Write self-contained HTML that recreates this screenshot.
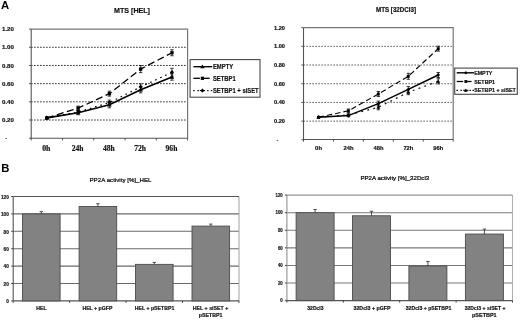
<!DOCTYPE html>
<html lang="en"><head><meta charset="utf-8"><title>Figure</title>
<style>
html,body{margin:0;padding:0;background:#fff;}
body{width:520px;height:320px;overflow:hidden;}
svg{display:block;}
.ss{font-family:"Liberation Sans",sans-serif;}
.sf{font-family:"Liberation Serif",serif;}
</style></head><body>
<svg width="520" height="320" viewBox="0 0 520 320">
<rect width="520" height="320" fill="#fff"/>
<text x="0.90" y="8.80" font-size="11.3" font-weight="bold" text-anchor="start" class="ss" fill="#000">A</text>
<text x="1.20" y="172.30" font-size="11.3" font-weight="bold" text-anchor="start" class="ss" fill="#000">B</text>
<line x1="31.2" y1="120.02" x2="187.6" y2="120.02" stroke="#111" stroke-width="1.0" stroke-dasharray="1.4 1.6"/>
<line x1="31.2" y1="101.83" x2="187.6" y2="101.83" stroke="#111" stroke-width="1.0" stroke-dasharray="1.4 1.6"/>
<line x1="31.2" y1="83.65" x2="187.6" y2="83.65" stroke="#111" stroke-width="1.0" stroke-dasharray="1.4 1.6"/>
<line x1="31.2" y1="65.47" x2="187.6" y2="65.47" stroke="#111" stroke-width="1.0" stroke-dasharray="1.4 1.6"/>
<line x1="31.2" y1="47.28" x2="187.6" y2="47.28" stroke="#111" stroke-width="1.0" stroke-dasharray="1.4 1.6"/>
<path d="M31.2 29.1 H187.6 V138.2" fill="none" stroke="#777" stroke-width="1.2"/>
<path d="M31.2 29.1 V138.2 H187.6" fill="none" stroke="#555" stroke-width="1.1"/>
<line x1="29.0" y1="138.20" x2="31.2" y2="138.20" stroke="#444" stroke-width="0.9"/>
<line x1="29.0" y1="120.02" x2="31.2" y2="120.02" stroke="#444" stroke-width="0.9"/>
<line x1="29.0" y1="101.83" x2="31.2" y2="101.83" stroke="#444" stroke-width="0.9"/>
<line x1="29.0" y1="83.65" x2="31.2" y2="83.65" stroke="#444" stroke-width="0.9"/>
<line x1="29.0" y1="65.47" x2="31.2" y2="65.47" stroke="#444" stroke-width="0.9"/>
<line x1="29.0" y1="47.28" x2="31.2" y2="47.28" stroke="#444" stroke-width="0.9"/>
<line x1="29.0" y1="29.10" x2="31.2" y2="29.10" stroke="#444" stroke-width="0.9"/>
<line x1="31.20" y1="138.2" x2="31.20" y2="140.39999999999998" stroke="#444" stroke-width="0.9"/>
<line x1="62.48" y1="138.2" x2="62.48" y2="140.39999999999998" stroke="#444" stroke-width="0.9"/>
<line x1="93.76" y1="138.2" x2="93.76" y2="140.39999999999998" stroke="#444" stroke-width="0.9"/>
<line x1="125.04" y1="138.2" x2="125.04" y2="140.39999999999998" stroke="#444" stroke-width="0.9"/>
<line x1="156.32" y1="138.2" x2="156.32" y2="140.39999999999998" stroke="#444" stroke-width="0.9"/>
<line x1="187.60" y1="138.2" x2="187.60" y2="140.39999999999998" stroke="#444" stroke-width="0.9"/>
<text x="7.30" y="140.35" font-size="6.0" font-weight="bold" text-anchor="end" class="ss" fill="#111">-</text>
<text x="13.90" y="122.17" font-size="6.0" font-weight="bold" text-anchor="end" class="ss" fill="#111" textLength="11.9" lengthAdjust="spacingAndGlyphs" stroke="#111" stroke-width="0.18">0.20</text>
<text x="13.90" y="103.98" font-size="6.0" font-weight="bold" text-anchor="end" class="ss" fill="#111" textLength="11.9" lengthAdjust="spacingAndGlyphs" stroke="#111" stroke-width="0.18">0.40</text>
<text x="13.90" y="85.80" font-size="6.0" font-weight="bold" text-anchor="end" class="ss" fill="#111" textLength="11.9" lengthAdjust="spacingAndGlyphs" stroke="#111" stroke-width="0.18">0.60</text>
<text x="13.90" y="67.62" font-size="6.0" font-weight="bold" text-anchor="end" class="ss" fill="#111" textLength="11.9" lengthAdjust="spacingAndGlyphs" stroke="#111" stroke-width="0.18">0.80</text>
<text x="13.90" y="49.43" font-size="6.0" font-weight="bold" text-anchor="end" class="ss" fill="#111" textLength="11.9" lengthAdjust="spacingAndGlyphs" stroke="#111" stroke-width="0.18">1.00</text>
<text x="13.90" y="31.25" font-size="6.0" font-weight="bold" text-anchor="end" class="ss" fill="#111" textLength="11.9" lengthAdjust="spacingAndGlyphs" stroke="#111" stroke-width="0.18">1.20</text>
<text x="46.34" y="150.50" font-size="8.2" font-weight="bold" text-anchor="middle" class="sf" fill="#111" textLength="8.3" lengthAdjust="spacingAndGlyphs" stroke="#111" stroke-width="0.18">0h</text>
<text x="77.62" y="150.50" font-size="8.2" font-weight="bold" text-anchor="middle" class="sf" fill="#111" textLength="11.8" lengthAdjust="spacingAndGlyphs" stroke="#111" stroke-width="0.18">24h</text>
<text x="108.90" y="150.50" font-size="8.2" font-weight="bold" text-anchor="middle" class="sf" fill="#111" textLength="11.8" lengthAdjust="spacingAndGlyphs" stroke="#111" stroke-width="0.18">48h</text>
<text x="140.18" y="150.50" font-size="8.2" font-weight="bold" text-anchor="middle" class="sf" fill="#111" textLength="11.8" lengthAdjust="spacingAndGlyphs" stroke="#111" stroke-width="0.18">72h</text>
<text x="171.46" y="150.50" font-size="8.2" font-weight="bold" text-anchor="middle" class="sf" fill="#111" textLength="11.8" lengthAdjust="spacingAndGlyphs" stroke="#111" stroke-width="0.18">96h</text>
<path d="M46.84 117.90 L78.12 112.70 L109.40 104.80 L140.68 89.70 L171.96 77.00" fill="none" stroke="#000" stroke-width="1.6"/>
<path d="M46.84 115.62 l2.28 3.96 h-4.56z" fill="#000"/>
<path d="M78.12 110.70 V114.70 M76.42 110.70 h3.4 M76.42 114.70 h3.4" fill="none" stroke="#000" stroke-width="0.75"/>
<path d="M78.12 110.42 l2.28 3.96 h-4.56z" fill="#000"/>
<path d="M109.40 101.80 V107.80 M107.70 101.80 h3.4 M107.70 107.80 h3.4" fill="none" stroke="#000" stroke-width="0.75"/>
<path d="M109.40 102.52 l2.28 3.96 h-4.56z" fill="#000"/>
<path d="M140.68 86.50 V92.90 M138.98 86.50 h3.4 M138.98 92.90 h3.4" fill="none" stroke="#000" stroke-width="0.75"/>
<path d="M140.68 87.42 l2.28 3.96 h-4.56z" fill="#000"/>
<path d="M171.96 73.80 V80.20 M170.26 73.80 h3.4 M170.26 80.20 h3.4" fill="none" stroke="#000" stroke-width="0.75"/>
<path d="M171.96 74.72 l2.28 3.96 h-4.56z" fill="#000"/>
<path d="M46.84 117.90 L78.12 108.10 L109.40 93.65 L140.68 69.10 L171.96 52.75" fill="none" stroke="#000" stroke-width="1.3" stroke-dasharray="7 3.5"/>
<rect x="45.16" y="116.22" width="3.36" height="3.36" fill="#000"/>
<path d="M78.12 106.10 V110.10 M76.42 106.10 h3.4 M76.42 110.10 h3.4" fill="none" stroke="#000" stroke-width="0.75"/>
<rect x="76.44" y="106.42" width="3.36" height="3.36" fill="#000"/>
<path d="M109.40 91.15 V96.15 M107.70 91.15 h3.4 M107.70 96.15 h3.4" fill="none" stroke="#000" stroke-width="0.75"/>
<rect x="107.72" y="91.97" width="3.36" height="3.36" fill="#000"/>
<path d="M140.68 65.60 V72.60 M138.98 65.60 h3.4 M138.98 72.60 h3.4" fill="none" stroke="#000" stroke-width="0.75"/>
<rect x="139.00" y="67.42" width="3.36" height="3.36" fill="#000"/>
<path d="M171.96 49.75 V55.75 M170.26 49.75 h3.4 M170.26 55.75 h3.4" fill="none" stroke="#000" stroke-width="0.75"/>
<rect x="170.28" y="51.07" width="3.36" height="3.36" fill="#000"/>
<path d="M46.84 117.90 L78.12 112.00 L109.40 102.60 L140.68 86.90 L171.96 72.30" fill="none" stroke="#000" stroke-width="1.25" stroke-dasharray="1.6 3.9"/>
<path d="M46.84 115.62 l2.04 2.28 l-2.04 2.28 l-2.04 -2.28z" fill="#000"/>
<path d="M78.12 110.50 V113.50 M76.42 110.50 h3.4 M76.42 113.50 h3.4" fill="none" stroke="#000" stroke-width="0.75"/>
<path d="M78.12 109.72 l2.04 2.28 l-2.04 2.28 l-2.04 -2.28z" fill="#000"/>
<path d="M109.40 100.10 V105.10 M107.70 100.10 h3.4 M107.70 105.10 h3.4" fill="none" stroke="#000" stroke-width="0.75"/>
<path d="M109.40 100.32 l2.04 2.28 l-2.04 2.28 l-2.04 -2.28z" fill="#000"/>
<path d="M140.68 83.90 V89.90 M138.98 83.90 h3.4 M138.98 89.90 h3.4" fill="none" stroke="#000" stroke-width="0.75"/>
<path d="M140.68 84.62 l2.04 2.28 l-2.04 2.28 l-2.04 -2.28z" fill="#000"/>
<path d="M171.96 68.30 V76.30 M170.26 68.30 h3.4 M170.26 76.30 h3.4" fill="none" stroke="#000" stroke-width="0.75"/>
<path d="M171.96 70.02 l2.04 2.28 l-2.04 2.28 l-2.04 -2.28z" fill="#000"/>
<text x="132.00" y="12.70" font-size="7.0" font-weight="bold" text-anchor="middle" class="ss" fill="#111" textLength="36" lengthAdjust="spacingAndGlyphs" stroke="#111" stroke-width="0.18">MTS [HEL]</text>
<rect x="190.1" y="59.6" width="69.90" height="37.60" fill="#fff" stroke="#484848" stroke-width="1.1"/>
<line x1="193.4" y1="66.7" x2="212.2" y2="66.7" stroke="#000" stroke-width="1.4"/>
<path d="M202.40 64.52 l2.18 3.79 h-4.37z" fill="#000"/>
<text x="212.90" y="68.80" font-size="7.0" font-weight="bold" text-anchor="start" class="ss" fill="#111" textLength="20.3" lengthAdjust="spacingAndGlyphs" stroke="#111" stroke-width="0.18">EMPTY</text>
<line x1="193.4" y1="78.3" x2="199.9" y2="78.3" stroke="#000" stroke-width="1.3"/>
<line x1="202.4" y1="78.3" x2="209.7" y2="78.3" stroke="#000" stroke-width="1.3"/>
<rect x="200.79" y="76.69" width="3.22" height="3.22" fill="#000"/>
<text x="212.90" y="80.50" font-size="7.0" font-weight="bold" text-anchor="start" class="ss" fill="#111" textLength="22.8" lengthAdjust="spacingAndGlyphs" stroke="#111" stroke-width="0.18">SETBP1</text>
<line x1="193.20000000000002" y1="90.6" x2="194.6" y2="90.6" stroke="#000" stroke-width="1.2"/>
<line x1="197.4" y1="90.6" x2="198.79999999999998" y2="90.6" stroke="#000" stroke-width="1.2"/>
<line x1="207.20000000000002" y1="90.6" x2="208.6" y2="90.6" stroke="#000" stroke-width="1.2"/>
<line x1="210.8" y1="90.6" x2="212.2" y2="90.6" stroke="#000" stroke-width="1.2"/>
<line x1="199.8" y1="90.6" x2="205.0" y2="90.6" stroke="#000" stroke-width="1.1"/>
<path d="M202.40 88.41 l1.95 2.18 l-1.95 2.18 l-1.95 -2.18z" fill="#000"/>
<text x="212.90" y="93.20" font-size="7.0" font-weight="bold" text-anchor="start" class="ss" fill="#111" textLength="45.8" lengthAdjust="spacingAndGlyphs" stroke="#111" stroke-width="0.18">SETBP1 + siSET</text>
<line x1="303.5" y1="121.11" x2="453.2" y2="121.11" stroke="#111" stroke-width="0.9" stroke-dasharray="1.2 1.8"/>
<line x1="303.5" y1="102.42" x2="453.2" y2="102.42" stroke="#111" stroke-width="0.9" stroke-dasharray="1.2 1.8"/>
<line x1="303.5" y1="83.72" x2="453.2" y2="83.72" stroke="#111" stroke-width="0.9" stroke-dasharray="1.2 1.8"/>
<line x1="303.5" y1="65.03" x2="453.2" y2="65.03" stroke="#111" stroke-width="0.9" stroke-dasharray="1.2 1.8"/>
<line x1="303.5" y1="46.34" x2="453.2" y2="46.34" stroke="#111" stroke-width="0.9" stroke-dasharray="1.2 1.8"/>
<path d="M303.5 27.65 H453.2 V139.45" fill="none" stroke="#777" stroke-width="1.2"/>
<path d="M303.5 27.65 V139.45 H453.2" fill="none" stroke="#555" stroke-width="1.1"/>
<line x1="301.3" y1="139.80" x2="303.5" y2="139.80" stroke="#444" stroke-width="0.9"/>
<line x1="301.3" y1="121.11" x2="303.5" y2="121.11" stroke="#444" stroke-width="0.9"/>
<line x1="301.3" y1="102.42" x2="303.5" y2="102.42" stroke="#444" stroke-width="0.9"/>
<line x1="301.3" y1="83.72" x2="303.5" y2="83.72" stroke="#444" stroke-width="0.9"/>
<line x1="301.3" y1="65.03" x2="303.5" y2="65.03" stroke="#444" stroke-width="0.9"/>
<line x1="301.3" y1="46.34" x2="303.5" y2="46.34" stroke="#444" stroke-width="0.9"/>
<line x1="301.3" y1="27.65" x2="303.5" y2="27.65" stroke="#444" stroke-width="0.9"/>
<line x1="303.50" y1="139.45" x2="303.50" y2="141.64999999999998" stroke="#444" stroke-width="0.9"/>
<line x1="333.44" y1="139.45" x2="333.44" y2="141.64999999999998" stroke="#444" stroke-width="0.9"/>
<line x1="363.38" y1="139.45" x2="363.38" y2="141.64999999999998" stroke="#444" stroke-width="0.9"/>
<line x1="393.32" y1="139.45" x2="393.32" y2="141.64999999999998" stroke="#444" stroke-width="0.9"/>
<line x1="423.26" y1="139.45" x2="423.26" y2="141.64999999999998" stroke="#444" stroke-width="0.9"/>
<line x1="453.20" y1="139.45" x2="453.20" y2="141.64999999999998" stroke="#444" stroke-width="0.9"/>
<text x="278.40" y="141.80" font-size="5.7" font-weight="bold" text-anchor="end" class="ss" fill="#111">-</text>
<text x="285.00" y="123.11" font-size="5.7" font-weight="bold" text-anchor="end" class="ss" fill="#111" textLength="11.0" lengthAdjust="spacingAndGlyphs" stroke="#111" stroke-width="0.18">0.20</text>
<text x="285.00" y="104.42" font-size="5.7" font-weight="bold" text-anchor="end" class="ss" fill="#111" textLength="11.0" lengthAdjust="spacingAndGlyphs" stroke="#111" stroke-width="0.18">0.40</text>
<text x="285.00" y="85.72" font-size="5.7" font-weight="bold" text-anchor="end" class="ss" fill="#111" textLength="11.0" lengthAdjust="spacingAndGlyphs" stroke="#111" stroke-width="0.18">0.60</text>
<text x="285.00" y="67.03" font-size="5.7" font-weight="bold" text-anchor="end" class="ss" fill="#111" textLength="11.0" lengthAdjust="spacingAndGlyphs" stroke="#111" stroke-width="0.18">0.80</text>
<text x="285.00" y="48.34" font-size="5.7" font-weight="bold" text-anchor="end" class="ss" fill="#111" textLength="11.0" lengthAdjust="spacingAndGlyphs" stroke="#111" stroke-width="0.18">1.00</text>
<text x="285.00" y="29.65" font-size="5.7" font-weight="bold" text-anchor="end" class="ss" fill="#111" textLength="11.0" lengthAdjust="spacingAndGlyphs" stroke="#111" stroke-width="0.18">1.20</text>
<text x="318.57" y="149.90" font-size="6.1" font-weight="bold" text-anchor="middle" class="ss" fill="#111" textLength="6.9" lengthAdjust="spacingAndGlyphs" stroke="#111" stroke-width="0.18">0h</text>
<text x="348.51" y="149.90" font-size="6.1" font-weight="bold" text-anchor="middle" class="ss" fill="#111" textLength="10.0" lengthAdjust="spacingAndGlyphs" stroke="#111" stroke-width="0.18">24h</text>
<text x="378.45" y="149.90" font-size="6.1" font-weight="bold" text-anchor="middle" class="ss" fill="#111" textLength="10.0" lengthAdjust="spacingAndGlyphs" stroke="#111" stroke-width="0.18">48h</text>
<text x="408.39" y="149.90" font-size="6.1" font-weight="bold" text-anchor="middle" class="ss" fill="#111" textLength="10.0" lengthAdjust="spacingAndGlyphs" stroke="#111" stroke-width="0.18">72h</text>
<text x="438.33" y="149.90" font-size="6.1" font-weight="bold" text-anchor="middle" class="ss" fill="#111" textLength="10.0" lengthAdjust="spacingAndGlyphs" stroke="#111" stroke-width="0.18">96h</text>
<path d="M318.47 117.30 L348.41 115.60 L378.35 103.60 L408.29 89.40 L438.23 75.00" fill="none" stroke="#000" stroke-width="1.55"/>
<path d="M318.47 115.30 l1.78 1.99 l-1.78 1.99 l-1.78 -1.99z" fill="#000"/>
<path d="M348.41 114.40 V116.80 M346.71 114.40 h3.4 M346.71 116.80 h3.4" fill="none" stroke="#000" stroke-width="0.75"/>
<path d="M348.41 113.60 l1.78 1.99 l-1.78 1.99 l-1.78 -1.99z" fill="#000"/>
<path d="M378.35 101.10 V106.10 M376.65 101.10 h3.4 M376.65 106.10 h3.4" fill="none" stroke="#000" stroke-width="0.75"/>
<path d="M378.35 101.60 l1.78 1.99 l-1.78 1.99 l-1.78 -1.99z" fill="#000"/>
<path d="M408.29 86.60 V92.20 M406.59 86.60 h3.4 M406.59 92.20 h3.4" fill="none" stroke="#000" stroke-width="0.75"/>
<path d="M408.29 87.41 l1.78 1.99 l-1.78 1.99 l-1.78 -1.99z" fill="#000"/>
<path d="M438.23 72.50 V77.50 M436.53 72.50 h3.4 M436.53 77.50 h3.4" fill="none" stroke="#000" stroke-width="0.75"/>
<path d="M438.23 73.00 l1.78 1.99 l-1.78 1.99 l-1.78 -1.99z" fill="#000"/>
<path d="M318.47 117.30 L348.41 110.80 L378.35 94.00 L408.29 76.30 L438.23 48.70" fill="none" stroke="#000" stroke-width="1.1" stroke-dasharray="5.5 3"/>
<rect x="317.00" y="115.83" width="2.94" height="2.94" fill="#000"/>
<path d="M348.41 109.00 V112.60 M346.71 109.00 h3.4 M346.71 112.60 h3.4" fill="none" stroke="#000" stroke-width="0.75"/>
<rect x="346.94" y="109.33" width="2.94" height="2.94" fill="#000"/>
<path d="M378.35 91.50 V96.50 M376.65 91.50 h3.4 M376.65 96.50 h3.4" fill="none" stroke="#000" stroke-width="0.75"/>
<rect x="376.88" y="92.53" width="2.94" height="2.94" fill="#000"/>
<path d="M408.29 73.30 V79.30 M406.59 73.30 h3.4 M406.59 79.30 h3.4" fill="none" stroke="#000" stroke-width="0.75"/>
<rect x="406.82" y="74.83" width="2.94" height="2.94" fill="#000"/>
<path d="M438.23 46.20 V51.20 M436.53 46.20 h3.4 M436.53 51.20 h3.4" fill="none" stroke="#000" stroke-width="0.75"/>
<rect x="436.76" y="47.23" width="2.94" height="2.94" fill="#000"/>
<path d="M318.47 117.30 L348.41 115.00 L378.35 107.30 L408.29 92.20 L438.23 81.30" fill="none" stroke="#000" stroke-width="1.15" stroke-dasharray="1.8 4.4"/>
<path d="M318.47 115.30 l1.99 3.46 h-3.99z" fill="#000"/>
<path d="M348.41 113.80 V116.20 M346.71 113.80 h3.4 M346.71 116.20 h3.4" fill="none" stroke="#000" stroke-width="0.75"/>
<path d="M348.41 113.00 l1.99 3.46 h-3.99z" fill="#000"/>
<path d="M378.35 104.80 V109.80 M376.65 104.80 h3.4 M376.65 109.80 h3.4" fill="none" stroke="#000" stroke-width="0.75"/>
<path d="M378.35 105.30 l1.99 3.46 h-3.99z" fill="#000"/>
<path d="M408.29 89.70 V94.70 M406.59 89.70 h3.4 M406.59 94.70 h3.4" fill="none" stroke="#000" stroke-width="0.75"/>
<path d="M408.29 90.20 l1.99 3.46 h-3.99z" fill="#000"/>
<path d="M438.23 78.70 V83.90 M436.53 78.70 h3.4 M436.53 83.90 h3.4" fill="none" stroke="#000" stroke-width="0.75"/>
<path d="M438.23 79.30 l1.99 3.46 h-3.99z" fill="#000"/>
<text x="396.00" y="11.50" font-size="6.3" font-weight="bold" text-anchor="middle" class="ss" fill="#111" textLength="40" lengthAdjust="spacingAndGlyphs" stroke="#111" stroke-width="0.18">MTS [32DCl3]</text>
<rect x="454.7" y="68.1" width="62.60" height="26.20" fill="#fff" stroke="#484848" stroke-width="1.1"/>
<line x1="456.7" y1="72.8" x2="474.0" y2="72.8" stroke="#000" stroke-width="1.4"/>
<circle cx="465.80" cy="72.80" r="1.40" fill="#000"/>
<text x="474.20" y="74.80" font-size="5.9" font-weight="bold" text-anchor="start" class="ss" fill="#111" textLength="18.2" lengthAdjust="spacingAndGlyphs" stroke="#111" stroke-width="0.18">EMPTY</text>
<line x1="456.7" y1="81.5" x2="463.2" y2="81.5" stroke="#000" stroke-width="1.3"/>
<line x1="465.8" y1="81.5" x2="471.5" y2="81.5" stroke="#000" stroke-width="1.3"/>
<rect x="464.40" y="80.10" width="2.80" height="2.80" fill="#000"/>
<text x="474.20" y="83.50" font-size="5.9" font-weight="bold" text-anchor="start" class="ss" fill="#111" textLength="20.9" lengthAdjust="spacingAndGlyphs" stroke="#111" stroke-width="0.18">SETBP1</text>
<line x1="456.5" y1="90.3" x2="457.9" y2="90.3" stroke="#000" stroke-width="1.2"/>
<line x1="460.5" y1="90.3" x2="461.9" y2="90.3" stroke="#000" stroke-width="1.2"/>
<line x1="469.5" y1="90.3" x2="470.9" y2="90.3" stroke="#000" stroke-width="1.2"/>
<line x1="472.5" y1="90.3" x2="473.9" y2="90.3" stroke="#000" stroke-width="1.2"/>
<line x1="463.2" y1="90.3" x2="468.40000000000003" y2="90.3" stroke="#000" stroke-width="1.1"/>
<path d="M465.80 88.40 l1.90 3.30 h-3.80z" fill="#000"/>
<text x="474.20" y="91.90" font-size="5.9" font-weight="bold" text-anchor="start" class="ss" fill="#111" textLength="41.7" lengthAdjust="spacingAndGlyphs" stroke="#111" stroke-width="0.18">SETBP1 + siSET</text>
<line x1="13.2" y1="283.50" x2="239.0" y2="283.50" stroke="#6a6a6a" stroke-width="1.1"/>
<line x1="13.2" y1="266.10" x2="239.0" y2="266.10" stroke="#6a6a6a" stroke-width="1.1"/>
<line x1="13.2" y1="248.70" x2="239.0" y2="248.70" stroke="#6a6a6a" stroke-width="1.1"/>
<line x1="13.2" y1="231.30" x2="239.0" y2="231.30" stroke="#6a6a6a" stroke-width="1.1"/>
<line x1="13.2" y1="213.90" x2="239.0" y2="213.90" stroke="#6a6a6a" stroke-width="1.1"/>
<line x1="239.0" y1="196.5" x2="239.0" y2="300.9" stroke="#aaa" stroke-width="1.1"/>
<line x1="13.2" y1="196.5" x2="239.0" y2="196.5" stroke="#555" stroke-width="1"/>
<line x1="13.2" y1="196.5" x2="13.2" y2="300.9" stroke="#555" stroke-width="1.1"/>
<line x1="13.2" y1="300.9" x2="239.0" y2="300.9" stroke="#555" stroke-width="1.2"/>
<line x1="11.2" y1="300.90" x2="13.2" y2="300.90" stroke="#333" stroke-width="0.9"/>
<text x="8.80" y="303.15" font-size="5.4" font-weight="bold" text-anchor="end" class="ss" fill="#111" textLength="2.6" lengthAdjust="spacingAndGlyphs" stroke="#111" stroke-width="0.18">0</text>
<line x1="11.2" y1="283.50" x2="13.2" y2="283.50" stroke="#333" stroke-width="0.9"/>
<text x="8.80" y="285.75" font-size="5.4" font-weight="bold" text-anchor="end" class="ss" fill="#111" textLength="5.2" lengthAdjust="spacingAndGlyphs" stroke="#111" stroke-width="0.18">20</text>
<line x1="11.2" y1="266.10" x2="13.2" y2="266.10" stroke="#333" stroke-width="0.9"/>
<text x="8.80" y="268.35" font-size="5.4" font-weight="bold" text-anchor="end" class="ss" fill="#111" textLength="5.2" lengthAdjust="spacingAndGlyphs" stroke="#111" stroke-width="0.18">40</text>
<line x1="11.2" y1="248.70" x2="13.2" y2="248.70" stroke="#333" stroke-width="0.9"/>
<text x="8.80" y="250.95" font-size="5.4" font-weight="bold" text-anchor="end" class="ss" fill="#111" textLength="5.2" lengthAdjust="spacingAndGlyphs" stroke="#111" stroke-width="0.18">60</text>
<line x1="11.2" y1="231.30" x2="13.2" y2="231.30" stroke="#333" stroke-width="0.9"/>
<text x="8.80" y="233.55" font-size="5.4" font-weight="bold" text-anchor="end" class="ss" fill="#111" textLength="5.2" lengthAdjust="spacingAndGlyphs" stroke="#111" stroke-width="0.18">80</text>
<line x1="11.2" y1="213.90" x2="13.2" y2="213.90" stroke="#333" stroke-width="0.9"/>
<text x="8.80" y="216.15" font-size="5.4" font-weight="bold" text-anchor="end" class="ss" fill="#111" textLength="7.8" lengthAdjust="spacingAndGlyphs" stroke="#111" stroke-width="0.18">100</text>
<line x1="11.2" y1="196.50" x2="13.2" y2="196.50" stroke="#333" stroke-width="0.9"/>
<text x="8.80" y="198.75" font-size="5.4" font-weight="bold" text-anchor="end" class="ss" fill="#111" textLength="7.8" lengthAdjust="spacingAndGlyphs" stroke="#111" stroke-width="0.18">120</text>
<line x1="13.20" y1="300.9" x2="13.20" y2="302.9" stroke="#333" stroke-width="0.9"/>
<line x1="69.65" y1="300.9" x2="69.65" y2="302.9" stroke="#333" stroke-width="0.9"/>
<line x1="126.10" y1="300.9" x2="126.10" y2="302.9" stroke="#333" stroke-width="0.9"/>
<line x1="182.55" y1="300.9" x2="182.55" y2="302.9" stroke="#333" stroke-width="0.9"/>
<line x1="239.00" y1="300.9" x2="239.00" y2="302.9" stroke="#333" stroke-width="0.9"/>
<rect x="22.50" y="213.90" width="37.60" height="87.00" fill="#828282" stroke="#4c4c4c" stroke-width="0.9"/>
<path d="M41.30 213.90 V211.60 M39.60 211.60 h3.4" fill="none" stroke="#333" stroke-width="0.85"/>
<rect x="79.10" y="206.50" width="37.60" height="94.39" fill="#828282" stroke="#4c4c4c" stroke-width="0.9"/>
<path d="M97.90 206.50 V203.70 M96.20 203.70 h3.4" fill="none" stroke="#333" stroke-width="0.85"/>
<rect x="135.50" y="264.36" width="37.60" height="36.54" fill="#828282" stroke="#4c4c4c" stroke-width="0.9"/>
<path d="M154.30 264.36 V262.36 M152.60 262.36 h3.4" fill="none" stroke="#333" stroke-width="0.85"/>
<rect x="192.00" y="226.08" width="37.60" height="74.82" fill="#828282" stroke="#4c4c4c" stroke-width="0.9"/>
<path d="M210.80 226.08 V224.08 M209.10 224.08 h3.4" fill="none" stroke="#333" stroke-width="0.85"/>
<text x="41.40" y="310.30" font-size="5.7" font-weight="bold" text-anchor="middle" class="ss" fill="#111" textLength="10.4" lengthAdjust="spacingAndGlyphs" stroke="#111" stroke-width="0.18">HEL</text>
<text x="97.40" y="310.30" font-size="5.7" font-weight="bold" text-anchor="middle" class="ss" fill="#111" textLength="30" lengthAdjust="spacingAndGlyphs" stroke="#111" stroke-width="0.18">HEL + pGFP</text>
<text x="154.50" y="310.30" font-size="5.7" font-weight="bold" text-anchor="middle" class="ss" fill="#111" textLength="39.6" lengthAdjust="spacingAndGlyphs" stroke="#111" stroke-width="0.18">HEL + pSETBP1</text>
<text x="210.50" y="310.30" font-size="5.7" font-weight="bold" text-anchor="middle" class="ss" fill="#111" textLength="35.4" lengthAdjust="spacingAndGlyphs" stroke="#111" stroke-width="0.18">HEL + siSET +</text>
<text x="210.60" y="317.30" font-size="5.7" font-weight="bold" text-anchor="middle" class="ss" fill="#111" textLength="23.6" lengthAdjust="spacingAndGlyphs" stroke="#111" stroke-width="0.18">pSETBP1</text>
<text x="120.50" y="181.85" font-size="6.0" font-weight="normal" text-anchor="middle" class="ss" fill="#000" textLength="62" lengthAdjust="spacingAndGlyphs" stroke="#000" stroke-width="0.2">PP2A activity [%]_HEL</text>
<line x1="286.9" y1="283.02" x2="512.5" y2="283.02" stroke="#787878" stroke-width="1.1"/>
<line x1="286.9" y1="265.43" x2="512.5" y2="265.43" stroke="#787878" stroke-width="1.1"/>
<line x1="286.9" y1="247.85" x2="512.5" y2="247.85" stroke="#787878" stroke-width="1.1"/>
<line x1="286.9" y1="230.27" x2="512.5" y2="230.27" stroke="#787878" stroke-width="1.1"/>
<line x1="286.9" y1="212.68" x2="512.5" y2="212.68" stroke="#787878" stroke-width="1.1"/>
<line x1="512.5" y1="195.1" x2="512.5" y2="300.6" stroke="#b0b0b0" stroke-width="1.1"/>
<line x1="286.9" y1="195.1" x2="512.5" y2="195.1" stroke="#777" stroke-width="1"/>
<line x1="286.9" y1="195.1" x2="286.9" y2="300.6" stroke="#909090" stroke-width="1.1"/>
<line x1="286.9" y1="300.6" x2="512.5" y2="300.6" stroke="#555" stroke-width="1.2"/>
<line x1="284.9" y1="300.60" x2="286.9" y2="300.60" stroke="#333" stroke-width="0.9"/>
<text x="282.80" y="302.35" font-size="5.0" font-weight="bold" text-anchor="end" class="ss" fill="#111" textLength="2.43" lengthAdjust="spacingAndGlyphs" stroke="#111" stroke-width="0.18">0</text>
<line x1="284.9" y1="283.02" x2="286.9" y2="283.02" stroke="#333" stroke-width="0.9"/>
<text x="282.80" y="284.77" font-size="5.0" font-weight="bold" text-anchor="end" class="ss" fill="#111" textLength="4.86" lengthAdjust="spacingAndGlyphs" stroke="#111" stroke-width="0.18">20</text>
<line x1="284.9" y1="265.43" x2="286.9" y2="265.43" stroke="#333" stroke-width="0.9"/>
<text x="282.80" y="267.18" font-size="5.0" font-weight="bold" text-anchor="end" class="ss" fill="#111" textLength="4.86" lengthAdjust="spacingAndGlyphs" stroke="#111" stroke-width="0.18">40</text>
<line x1="284.9" y1="247.85" x2="286.9" y2="247.85" stroke="#333" stroke-width="0.9"/>
<text x="282.80" y="249.60" font-size="5.0" font-weight="bold" text-anchor="end" class="ss" fill="#111" textLength="4.86" lengthAdjust="spacingAndGlyphs" stroke="#111" stroke-width="0.18">60</text>
<line x1="284.9" y1="230.27" x2="286.9" y2="230.27" stroke="#333" stroke-width="0.9"/>
<text x="282.80" y="232.02" font-size="5.0" font-weight="bold" text-anchor="end" class="ss" fill="#111" textLength="4.86" lengthAdjust="spacingAndGlyphs" stroke="#111" stroke-width="0.18">80</text>
<line x1="284.9" y1="212.68" x2="286.9" y2="212.68" stroke="#333" stroke-width="0.9"/>
<text x="282.80" y="214.43" font-size="5.0" font-weight="bold" text-anchor="end" class="ss" fill="#111" textLength="7.29" lengthAdjust="spacingAndGlyphs" stroke="#111" stroke-width="0.18">100</text>
<line x1="284.9" y1="195.10" x2="286.9" y2="195.10" stroke="#333" stroke-width="0.9"/>
<text x="282.80" y="196.85" font-size="5.0" font-weight="bold" text-anchor="end" class="ss" fill="#111" textLength="7.29" lengthAdjust="spacingAndGlyphs" stroke="#111" stroke-width="0.18">120</text>
<line x1="286.90" y1="300.6" x2="286.90" y2="302.6" stroke="#333" stroke-width="0.9"/>
<line x1="343.30" y1="300.6" x2="343.30" y2="302.6" stroke="#333" stroke-width="0.9"/>
<line x1="399.70" y1="300.6" x2="399.70" y2="302.6" stroke="#333" stroke-width="0.9"/>
<line x1="456.10" y1="300.6" x2="456.10" y2="302.6" stroke="#333" stroke-width="0.9"/>
<line x1="512.50" y1="300.6" x2="512.50" y2="302.6" stroke="#333" stroke-width="0.9"/>
<rect x="296.10" y="212.68" width="38.00" height="87.92" fill="#828282" stroke="#4c4c4c" stroke-width="0.9"/>
<path d="M315.10 212.68 V209.48 M313.40 209.48 h3.4" fill="none" stroke="#333" stroke-width="0.85"/>
<rect x="352.50" y="215.76" width="38.00" height="84.84" fill="#828282" stroke="#4c4c4c" stroke-width="0.9"/>
<path d="M371.50 215.76 V211.26 M369.80 211.26 h3.4" fill="none" stroke="#333" stroke-width="0.85"/>
<rect x="408.90" y="265.96" width="38.00" height="34.64" fill="#828282" stroke="#4c4c4c" stroke-width="0.9"/>
<path d="M427.90 265.96 V261.46 M426.20 261.46 h3.4" fill="none" stroke="#333" stroke-width="0.85"/>
<rect x="465.40" y="234.05" width="38.00" height="66.55" fill="#828282" stroke="#4c4c4c" stroke-width="0.9"/>
<path d="M484.40 234.05 V229.05 M482.70 229.05 h3.4" fill="none" stroke="#333" stroke-width="0.85"/>
<text x="315.40" y="309.80" font-size="5.3" font-weight="bold" text-anchor="middle" class="ss" fill="#111" textLength="16.2" lengthAdjust="spacingAndGlyphs" stroke="#111" stroke-width="0.18">32Dcl3</text>
<text x="372.00" y="309.80" font-size="5.3" font-weight="bold" text-anchor="middle" class="ss" fill="#111" textLength="37" lengthAdjust="spacingAndGlyphs" stroke="#111" stroke-width="0.18">32Dcl3 + pGFP</text>
<text x="428.50" y="309.80" font-size="5.3" font-weight="bold" text-anchor="middle" class="ss" fill="#111" textLength="45.5" lengthAdjust="spacingAndGlyphs" stroke="#111" stroke-width="0.18">32Dcl3 + pSETBP1</text>
<text x="485.10" y="309.80" font-size="5.3" font-weight="bold" text-anchor="middle" class="ss" fill="#111" textLength="40.8" lengthAdjust="spacingAndGlyphs" stroke="#111" stroke-width="0.18">32Dcl3 + siSET +</text>
<text x="484.30" y="316.50" font-size="5.3" font-weight="bold" text-anchor="middle" class="ss" fill="#111" textLength="24.5" lengthAdjust="spacingAndGlyphs" stroke="#111" stroke-width="0.18">pSETBP1</text>
<text x="394.80" y="180.20" font-size="5.6" font-weight="normal" text-anchor="middle" class="ss" fill="#000" textLength="68.8" lengthAdjust="spacingAndGlyphs" stroke="#000" stroke-width="0.2">PP2A activity [%]_32Dcl3</text>
</svg></body></html>
